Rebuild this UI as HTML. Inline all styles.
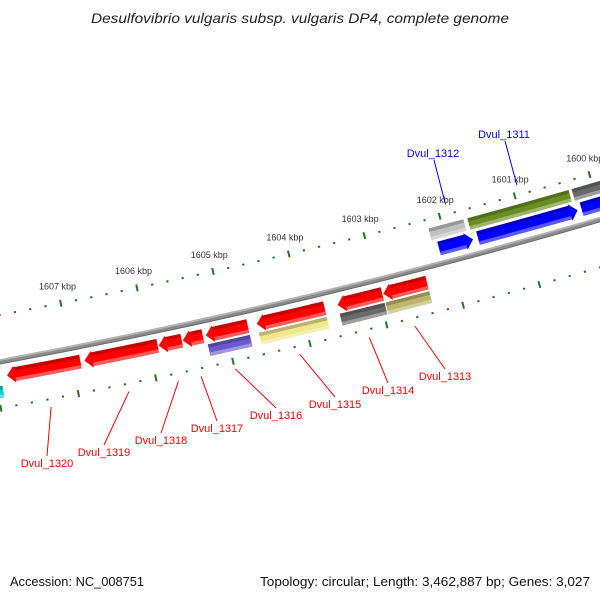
<!DOCTYPE html>
<html><head><meta charset="utf-8"><style>
html,body{margin:0;padding:0;background:#fff;}
svg{display:block;font-family:"Liberation Sans","DejaVu Sans",sans-serif;}
</style></head><body>
<svg id="map" width="600" height="600" viewBox="0 0 600 600" xmlns="http://www.w3.org/2000/svg">
<rect x="0" y="0" width="600" height="600" fill="#fff"/>
<text x="300" y="23" text-anchor="middle" font-size="14" font-style="italic" fill="#222" textLength="418" lengthAdjust="spacingAndGlyphs">Desulfovibrio vulgaris subsp. vulgaris DP4, complete genome</text>
<g id="rulers"></g>
<g id="backbone"></g>
<g id="features"></g>
<g id="labels"></g>
<text x="10" y="586" font-size="13" fill="#111" textLength="134" lengthAdjust="spacingAndGlyphs">Accession: NC_008751</text>
<text x="590" y="586" text-anchor="end" font-size="13" fill="#111" textLength="330" lengthAdjust="spacingAndGlyphs">Topology: circular; Length: 3,462,887 bp; Genes: 3,027</text>
</svg>
<script>
// ---- data ----
const geneNames = ["Dvul_1320","Dvul_1319","Dvul_1318","Dvul_1317","Dvul_1316","Dvul_1315","Dvul_1314","Dvul_1313"];
const geneStarts = [1606896,1605892,1605579,1605305,1604718,1603714,1602958,1602371];
const geneEnds   = [1607848,1606844,1605879,1605566,1605266,1604601,1603545,1602945];
const cogStarts = [1604718,1603714,1602958,1602371,1607930];
const cogEnds   = [1605266,1604601,1603545,1602945,1608300];
const cogColors = ["#6a5acd","#f0e68c","#696969","#bdb76b","#00ced1"];
const revNames  = ["Dvul_1312","Dvul_1311","Dvul_1310"];
const revStarts = [1601663,1600274,1599500];
const revEnds   = [1602113,1601597,1600221];
const revCogStarts = [1601716,1600314,1599500];
const revCogEnds   = [1602179,1601663,1600274];
const revCogColors = ["#c0c0c0","#6b8e23","#696969"];
const tickKbp = [1600,1601,1602,1603,1604,1605,1606,1607,1608];
const tickLabels = ["1600 kbp","1601 kbp","1602 kbp","1603 kbp","1604 kbp","1605 kbp","1606 kbp","1607 kbp","1608 kbp"];

// ---- geometry ----
const NS="http://www.w3.org/2000/svg";
const CX=-1093.3, CY=-5589.8;
const A0=75.21, BP0=1602000, DEG_PER_KBP=0.742;
function ang(bp){return (A0+(bp-BP0)/1000*DEG_PER_KBP)*Math.PI/180;}
function P(r,bp){const a=ang(bp);return [CX+r*Math.cos(a),CY+r*Math.sin(a)];}
function f(p){return p[0].toFixed(2)+" "+p[1].toFixed(2);}
function mk(tag,parent){const e=document.createElementNS(NS,tag);parent.appendChild(e);return e;}
function boxPath(r0,r1,b0,b1){
  return "M"+f(P(r1,b0))+" A"+r1+" "+r1+" 0 0 1 "+f(P(r1,b1))+" L"+f(P(r0,b1))+" A"+r0+" "+r0+" 0 0 0 "+f(P(r0,b0))+" Z";
}
function arrowPath(r0,r1,b0,b1,up){
  const rm=(r0+r1)/2;
  let h=Math.min(100,(b1-b0)*0.45);
  if(up){
    const bh=b1-h;
    return "M"+f(P(r0,b0))+" A"+r0+" "+r0+" 0 0 1 "+f(P(r0,bh))+" L"+f(P(r0-1.5,bh))+" L"+f(P(rm,b1))+" L"+f(P(r1+1.5,bh))+" L"+f(P(r1,bh))+" A"+r1+" "+r1+" 0 0 0 "+f(P(r1,b0))+" Z";
  } else {
    const bh=b0+h;
    return "M"+f(P(r0,bh))+" A"+r0+" "+r0+" 0 0 1 "+f(P(r0,b1))+" L"+f(P(r1,b1))+" A"+r1+" "+r1+" 0 0 0 "+f(P(r1,bh))+" L"+f(P(r1+1.5,bh))+" L"+f(P(rm,b0))+" L"+f(P(r0-1.5,bh))+" Z";
  }
}
function shade(g,r0,r1,b0,b1){
  const d=mk("path",g);d.setAttribute("d",boxPath(r0,r0+3.5,b0,b1));d.setAttribute("fill","#000");d.setAttribute("fill-opacity","0.22");
  
  
  const l=mk("path",g);l.setAttribute("d",boxPath(r1-3.5,r1,b0,b1));l.setAttribute("fill","#fff");l.setAttribute("fill-opacity","0.35");
  
  
}

// ---- rulers ----
const rg=document.getElementById("rulers");
[6005,6097].forEach(function(r,ri){
  for(let bp=1599400;bp<=1608400;bp+=200){
    const major=(bp%1000===0);
    const t=mk("line",rg);
    const a=major?P(r-3.5,bp):P(r-1,bp), b=major?P(r+3.5,bp):P(r+1,bp);
    t.setAttribute("x1",a[0]);t.setAttribute("y1",a[1]);t.setAttribute("x2",b[0]);t.setAttribute("y2",b[1]);
    t.setAttribute("stroke","#1f7a1f");t.setAttribute("stroke-width",major?2:2.2);
    
    
  }
});
tickKbp.forEach(function(k,i){
  const p=P(5988,k*1000);
  const t=mk("text",rg);
  t.setAttribute("x",p[0]);t.setAttribute("y",p[1]+3);t.setAttribute("text-anchor","middle");
  t.setAttribute("font-size","9");t.setAttribute("fill","#333");
  t.textContent=tickLabels[i];
  
  
});

// ---- backbone ----
const bb=document.getElementById("backbone");
[[6051,5,"#8a8a8a"],[6049.5,1.6,"#b5b5b5"],[6053.3,1,"#6a6a6a"]].forEach(function(s){
  const p=mk("path",bb);
  p.setAttribute("d","M"+f(P(s[0],1599000))+" A"+s[0]+" "+s[0]+" 0 0 1 "+f(P(s[0],1608800)));
  p.setAttribute("fill","none");p.setAttribute("stroke",s[2]);p.setAttribute("stroke-width",s[1]);
  
  
});

// ---- features ----
const fg=document.getElementById("features");
const GR0=6059,GR1=6073,CR0=6075,CR1=6087;
const RR0=6029,RR1=6043,RC0=6014,RC1=6026;
geneNames.forEach(function(n,i){
  const g=mk("g",fg);
  
  
  const p=mk("path",g);p.setAttribute("d",arrowPath(GR0,GR1,geneStarts[i],geneEnds[i],true));p.setAttribute("fill","#ff0000");
  
  
  shade(g,GR0,GR1,geneStarts[i],geneEnds[i]-Math.min(100,(geneEnds[i]-geneStarts[i])*0.45));
});
cogStarts.forEach(function(s,i){
  const g=mk("g",fg);
  
  
  const p=mk("path",g);p.setAttribute("d",boxPath(CR0,CR1,s,cogEnds[i]));p.setAttribute("fill",cogColors[i]);
  
  
  shade(g,CR0,CR1,s,cogEnds[i]);
});
revStarts.forEach(function(s,i){
  const g=mk("g",fg);
  
  
  const p=mk("path",g);p.setAttribute("d",arrowPath(RR0,RR1,s,revEnds[i],false));p.setAttribute("fill","#0000ff");
  
  
  shade(g,RR0,RR1,s+Math.min(100,(revEnds[i]-s)*0.45),revEnds[i]);
});
revCogStarts.forEach(function(s,i){
  const g=mk("g",fg);
  
  
  const p=mk("path",g);p.setAttribute("d",boxPath(RC0,RC1,s,revCogEnds[i]));p.setAttribute("fill",revCogColors[i]);
  
  
  shade(g,RC0,RC1,s,revCogEnds[i]);
});

// ---- labels ----
const lg=document.getElementById("labels");
const fwdLabelPos=[[47,467],[104,456],[161,444],[217,432],[276,419],[335,408],[388,394],[445,380]];
geneNames.forEach(function(n,i){
  const a=P(6105,(geneStarts[i]+geneEnds[i])/2), b=fwdLabelPos[i];
  const l=mk("line",lg);
  l.setAttribute("x1",a[0]);l.setAttribute("y1",a[1]);l.setAttribute("x2",b[0]);l.setAttribute("y2",b[1]-11);
  l.setAttribute("stroke","#ff0000");l.setAttribute("stroke-width","1");
  
  
  const t=mk("text",lg);
  t.setAttribute("x",b[0]);t.setAttribute("y",b[1]);t.setAttribute("text-anchor","middle");t.setAttribute("font-size","11");t.setAttribute("fill","#ff0000");
  t.textContent=n;
  
  
});
const revLabelPos=[[433,157],[504,138]];
revLabelPos.forEach(function(b,i){
  const a=P(5995,(revStarts[i]+revEnds[i])/2);
  const l=mk("line",lg);
  l.setAttribute("x1",b[0]+1);l.setAttribute("y1",b[1]+3);l.setAttribute("x2",a[0]);l.setAttribute("y2",a[1]);
  l.setAttribute("stroke","#0000ff");l.setAttribute("stroke-width","1");
  
  
  const t=mk("text",lg);
  t.setAttribute("x",b[0]);t.setAttribute("y",b[1]);t.setAttribute("text-anchor","middle");t.setAttribute("font-size","11");t.setAttribute("fill","#0000ff");
  t.textContent=revNames[i];
  
  
});
</script>
</body></html>
